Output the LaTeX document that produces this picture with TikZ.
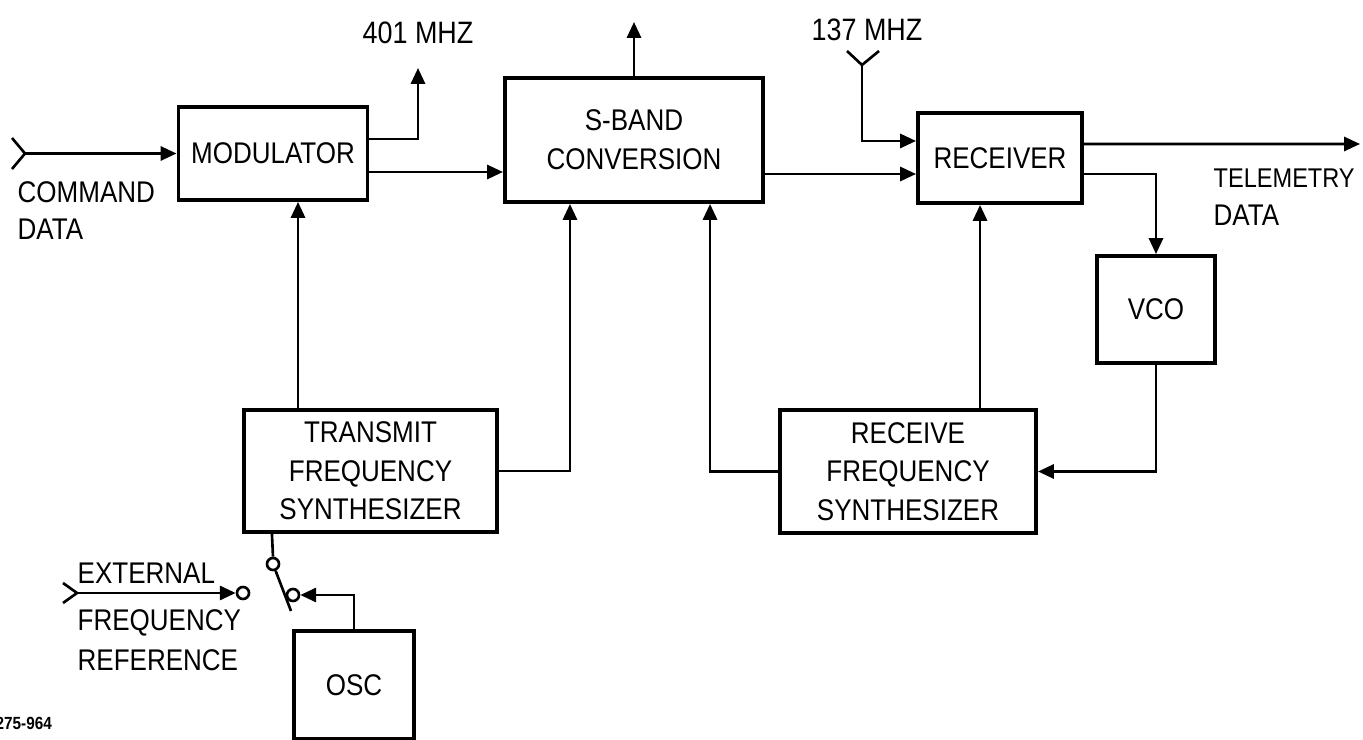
\documentclass[tikz,border=0pt]{standalone}
\usepackage{fontspec}
\setmainfont[FakeStretch=0.87]{Liberation Sans}
\usetikzlibrary{arrows.meta}

\tikzset{
  blk/.style={draw, line width=1.1pt, inner sep=0pt, align=center,
    font=\fontsize{8.5}{11}\selectfont},
  sig/.style={line width=0.75pt},
  arr/.style={sig, -{Triangle[length=4.5pt,width=4pt]}},
  contact/.style={circle, draw, line width=0.75pt, inner sep=0pt, minimum size=0.12cm},
  lbl/.style={inner sep=0pt, font=\fontsize{8.5}{11}\selectfont},
  freq/.style={inner sep=0pt, font=\fontsize{8.8}{10}\selectfont},
}

\begin{document}
\begin{tikzpicture}[x=0.01cm, y=-0.01cm]
  \useasboundingbox (0,0) rectangle (1363,740);

  % blocks
  \node[blk, minimum width=1.89cm, minimum height=0.93cm] (mod) at (273,153.5) {MODULATOR};
  \node[blk, minimum width=2.58cm, minimum height=1.24cm] (sband) at (634,140) {S-BAND\\CONVERSION};
  \node[blk, minimum width=1.64cm, minimum height=0.90cm] (rcvr) at (1000,158) {RECEIVER};
  \node[blk, minimum width=1.18cm, minimum height=1.07cm] (vco) at (1156,309.5) {VCO};
  \node[blk, minimum width=2.53cm, minimum height=1.22cm] (txsyn) at (370.5,471) {TRANSMIT\\FREQUENCY\\SYNTHESIZER};
  \node[blk, minimum width=2.56cm, minimum height=1.23cm] (rxsyn) at (908,471.5) {RECEIVE\\FREQUENCY\\SYNTHESIZER};
  \node[blk, minimum width=1.20cm, minimum height=1.08cm] (osc) at (354,685) {OSC};

  % switch contacts
  \node[contact] (sw) at (273,564) {};
  \node[contact] (swosc) at (293,595) {};
  \node[contact] (swext) at (243,593) {};
  \coordinate (bladeend) at (291,611);

  % free ends
  \coordinate (cmdin) at (25,153.5);
  \coordinate (ant401) at (418,68);
  \coordinate (sbup) at (634,22);
  \coordinate (ant137) at (862,65);
  \coordinate (tlm) at (1360,144);
  \coordinate (extin) at (77,593);

  % labels
  \node[lbl, anchor=west] (cmdlbl) at (17,192) {COMMAND};
  \node[lbl, anchor=west] (cmddata) at (17,229) {DATA};
  \node[freq] (lbl401) at (418,33) {401 MHZ};
  \node[freq] (lbl137) at (867,30) {137 MHZ};
  \node[lbl, anchor=west, font=\fontsize{7.7}{10}\selectfont] (tlmlbl) at (1213,178) {TELEMETRY};
  \node[lbl, anchor=west] (tlmdata) at (1213,215) {DATA};
  \node[lbl, anchor=west] (extlbl) at (77,573) {EXTERNAL};
  \node[lbl, anchor=west] (extfreq) at (77,623) {FREQUENCY};
  \node[lbl, anchor=west] (extref) at (77,660) {REFERENCE};
  \node[inner sep=0pt, anchor=west, font=\fontsize{5}{6}\selectfont\bfseries] (figno) at (-5,723) {275-964};

  % inputs and antennas
  \draw[sig] (12,138) -- (cmdin) -- (12,169);
  \draw[arr] (cmdin) -- (mod.west);
  \draw[sig] (847,51) -- (ant137) -- (879,51);
  \draw[sig] (63,583) -- (extin) -- (63,603);
  \draw[arr] (extin) -- (swext.west);

  % signal paths
  \draw[arr] ([yshift=0.145cm]mod.east) -| (ant401);
  \draw[arr] ([yshift=-0.185cm]mod.east) -- ([yshift=-0.185cm]mod.east -| sband.west);
  \draw[arr] (sband.north) -- (sbup);
  \draw[arr] ([yshift=-0.16cm]rcvr.west -| sband.east) -- ([yshift=-0.16cm]rcvr.west);
  \draw[arr] (ant137) |- ([yshift=0.17cm]rcvr.west);
  \draw[arr] ([yshift=0.14cm]rcvr.east) -- (tlm);
  \draw[arr] ([yshift=-0.16cm]rcvr.east) -| (vco.north);
  \draw[arr] (vco.south) |- (rxsyn.east);
  \draw[arr] ([xshift=0.72cm]rxsyn.north) -- ([xshift=0.72cm]rxsyn.north |- rcvr.south);
  \draw[arr] (rxsyn.west) -| ([xshift=0.76cm]sband.south);
  \draw[arr] ([xshift=0.25cm]mod.south |- txsyn.north) -- ([xshift=0.25cm]mod.south);
  \draw[arr] (txsyn.east) -| ([xshift=-0.64cm]sband.south);

  % reference switch
  \draw[sig] ([xshift=-0.985cm]txsyn.south) -- (sw.north);
  \draw[sig] (sw) -- (bladeend);
  \draw[arr] (osc.north) |- (swosc.east);
\end{tikzpicture}
\end{document}
